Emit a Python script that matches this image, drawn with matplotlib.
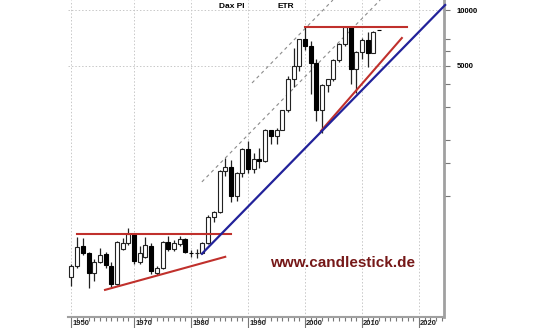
import numpy as np
import matplotlib.pyplot as plt

# yearly candles, Dax PI (1959 - 2013)
years = np.arange(1959, 2014)
opens = [367, 420, 538, 494, 386, 442, 488, 420, 336, 519, 559, 625, 442, 468, 538, 386, 410,
         566, 519, 552, 588, 494, 492, 494, 559, 774, 821, 1366, 1432, 1000, 1328, 1790, 1398,
         1578, 1545, 2267, 2107, 2254, 2889, 4250, 5002, 6958, 6434, 5160, 2893, 3965, 4256,
         5408, 6597, 8067, 4810, 5957, 6914, 5898, 7790]
highs = [430, 602, 595, 500, 460, 525, 500, 440, 570, 595, 673, 630, 538, 602, 560, 420, 575,
         610, 580, 612, 595, 510, 520, 565, 790, 830, 1380, 1592, 1560, 1340, 1800, 1966, 1700,
         1812, 2280, 2270, 2320, 2910, 4440, 6220, 6990, 8136, 6800, 5470, 4000, 4260, 5460,
         6630, 8152, 8100, 6030, 7090, 7600, 7680, 7800]
lows = [328, 410, 480, 320, 350, 435, 410, 325, 330, 510, 545, 430, 430, 465, 380, 375, 405,
        505, 505, 540, 490, 470, 465, 485, 550, 720, 810, 1280, 930, 940, 1260, 1320, 1320,
        1420, 1530, 1910, 1910, 2250, 2840, 3830, 4670, 6110, 3540, 2520, 2190, 3620, 4160,
        5240, 6440, 4010, 3590, 5430, 4960, 5900, 7780]
closes = [420, 532, 494, 386, 442, 482, 425, 336, 566, 559, 625, 444, 494, 545, 395, 410, 566,
          519, 559, 588, 500, 492, 494, 559, 771, 821, 1366, 1432, 1000, 1328, 1790, 1398, 1578,
          1545, 2267, 2107, 2254, 2889, 4250, 5002, 6958, 6434, 5160, 2893, 3965, 4256, 5408,
          6597, 8067, 4810, 5957, 6914, 5898, 7612, 7785]

# trend lines (year, value)
red_top_x, red_top_y = [2000, 2017.9], [8136, 8136]
red_base_x, red_base_y = [1960, 1987.0], [622, 622]
red_low_x, red_low_y = [1964.9, 1986.0], [312, 470]
red_up_x, red_up_y = [2002.8, 2017.0], [2235, 7070]
blue_x, blue_y = [1981.9, 2024.6], [488, 10640]
chan_a_x, chan_a_y = [1981.9, 2013.2], [1189, 11320]
chan_b_x, chan_b_y = [1990.7, 2004.9], [4050, 11320]

xticks = [1959, 1970, 1980, 1990, 2000, 2010, 2020]
xticklabels = ['1950', '1970', '1980', '1990', '2000', '2010', '2020']
ymajor = [5000, 10000]
yminor = [1000, 1500, 2000, 3000, 4000, 6000, 7000]

lbl_font = ['Liberation Sans', 'DejaVu Sans']

fig = plt.figure(figsize=(5.4, 3.28), dpi=100)
ax = fig.add_axes([68 / 540, 11 / 328, 376 / 540, 317 / 328])
ax.set_yscale('log')
ax.set_xlim(1958.4, 2024.4)
ax.set_ylim(223, 11320)

# grid
for v in ymajor:
    ax.axhline(v, color='#c8c8c8', lw=0.7, ls=(0, (1.5, 2)), zorder=0)
for x in xticks:
    ax.axvline(x, color='#c8c8c8', lw=0.7, ls=(0, (1.5, 2)), zorder=0)

# candles
o = np.array(opens); c = np.array(closes)
ax.vlines(years, lows, highs, color='#222222', lw=0.9, zorder=2)
up = c >= o
ax.bar(years[up], (c - o)[up], bottom=o[up], width=0.7, color='white',
       edgecolor='#222222', linewidth=0.8, zorder=3)
ax.bar(years[~up], (o - c)[~up], bottom=c[~up], width=0.7, color='black',
       edgecolor='black', linewidth=0.8, zorder=3)

# lines
red = '#c0302c'
ax.plot(chan_a_x, chan_a_y, color='#8c8c8c', lw=0.8, ls=(0, (3, 3)), zorder=1)
ax.plot(chan_b_x, chan_b_y, color='#8c8c8c', lw=0.8, ls=(0, (3, 3)), zorder=1)
ax.plot(red_top_x, red_top_y, color=red, lw=1.5, zorder=4)
ax.plot(red_base_x, red_base_y, color=red, lw=1.5, zorder=4)
ax.plot(red_low_x, red_low_y, color=red, lw=1.5, zorder=4)
ax.plot(red_up_x, red_up_y, color=red, lw=1.5, zorder=4)
ax.plot(blue_x, blue_y, color='#22229a', lw=1.6, zorder=5, clip_on=False)

# axes styling
for s in ['left', 'top']:
    ax.spines[s].set_visible(False)
ax.spines['right'].set_color('#a0a0a0')
ax.spines['right'].set_linewidth(2)
ax.spines['bottom'].set_color('#a0a0a0')
ax.spines['bottom'].set_linewidth(1.5)

ax.yaxis.tick_right()
ax.set_yticks(ymajor)
ax.set_yticks(yminor, minor=True)
ax.set_yticklabels([str(v) for v in ymajor], fontsize=5.5, fontweight='bold',
                   family=lbl_font)
ax.yaxis.set_minor_formatter(plt.NullFormatter())
ax.tick_params(axis='y', which='both', length=4, width=0.8, color='#777777', pad=5)

ax.set_xticks(xticks)
ax.set_xticks(np.arange(1959, 2025), minor=True)
ax.set_xticklabels([])
ax.tick_params(axis='x', which='major', length=8, width=0.8, color='#777777')
ax.tick_params(axis='x', which='minor', length=3, width=0.8, color='#777777')
for x, lab in zip(xticks, xticklabels):
    ax.text(x + 0.2, -0.008, lab, transform=ax.get_xaxis_transform(), ha='left',
            va='top', fontsize=5.5, fontweight='bold', family=lbl_font, color='#222222')

fig.text(219 / 540, 1 - 7 / 328, 'Dax PI', fontsize=6, fontweight='bold',
         family=['Liberation Sans', 'DejaVu Sans'], ha='left', va='center')
fig.text(277 / 540, 1 - 7 / 328, 'ETR', fontsize=6, fontweight='bold',
         family=['Liberation Sans', 'DejaVu Sans'], ha='left', va='center')
fig.text(270 / 540, 1 - 263 / 328, 'www.candlestick.de', fontsize=11, fontweight='bold',
         family=['Liberation Sans', 'DejaVu Sans'], color='#761818', ha='left', va='center')

fig.savefig('out.png', dpi=100)
